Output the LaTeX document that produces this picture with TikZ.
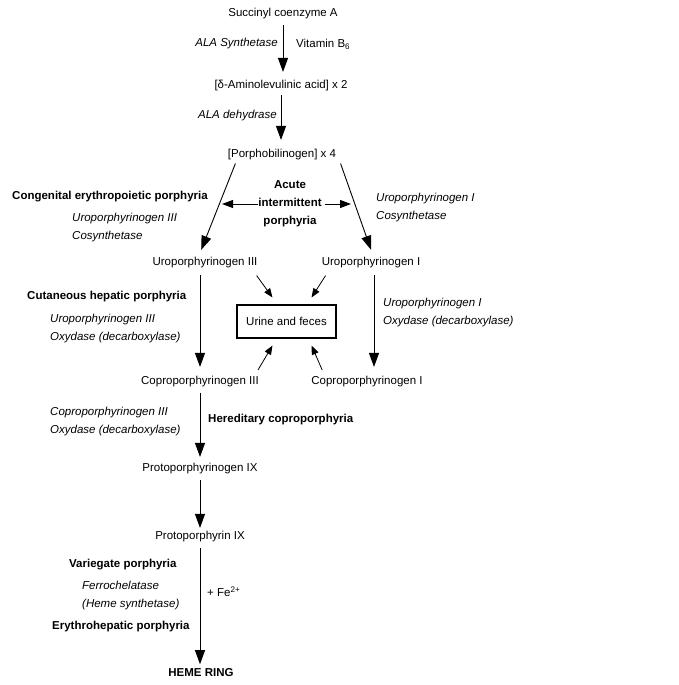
\documentclass[tikz,border=0pt]{standalone}
\usepackage{fontspec}
\setmainfont{Liberation Sans}
\usetikzlibrary{arrows.meta}

\begin{document}
\begin{tikzpicture}[
    x=1pt, y=-1pt,
    font=\fontsize{11.5}{18}\selectfont,
    chem/.style={inner sep=2pt},
    enz/.style={anchor=west, align=left, inner sep=0pt, font=\fontsize{11.5}{18}\selectfont\itshape},
    dis/.style={anchor=west, align=left, inner sep=0pt, font=\fontsize{11.5}{18}\selectfont\bfseries},
    box/.style={draw, line width=1.1pt, minimum width=99pt, minimum height=33pt},
    line/.style={-{Triangle[length=14pt,width=10pt]}, line width=0.9pt, shorten >=3pt, shorten <=3.5pt},
    thin/.style={-{Triangle[length=9pt,width=7pt]}, line width=0.8pt},
    dbl/.style={-{Triangle[length=11pt,width=8pt]}, line width=0.9pt}
]
    \useasboundingbox (0,0) rectangle (679,685);

    \node[chem] (succ) at (283,14) {Succinyl coenzyme A};
    \node[chem] (ala) at (281,86) {[δ-Aminolevulinic acid] x 2};
    \node[chem] (porpho) at (282,155) {[Porphobilinogen] x 4};
    \node[chem] (uro3) at (205,263) {Uroporphyrinogen III};
    \node[chem] (uro1) at (371,263) {Uroporphyrinogen I};
    \node[box] (excr) at (286.5,321.5) {Urine and feces};
    \node[chem] (copro3) at (200,382) {Coproporphyrinogen III};
    \node[chem] (copro1) at (367,382) {Coproporphyrinogen I};
    \node[chem] (protogen) at (200,469) {Protoporphyrinogen IX};
    \node[chem] (proto) at (200,537) {Protoporphyrin IX};
    \node[chem, font=\fontsize{11.5}{18}\selectfont\bfseries] (heme) at (201,673) {HEME RING};

    \node[enz, anchor=east] (alas) at (278,44) {ALA Synthetase};
    \node[anchor=west, inner sep=0pt] (vitb) at (296,44) {Vitamin B\textsubscript{6}};
    \node[enz, anchor=east] (alad) at (277,116) {ALA dehydrase};
    \node[dis] (cep) at (12,197) {Congenital erythropoietic porphyria};
    \node[enz] (uro3cos) at (72,227.5) {Uroporphyrinogen III\\Cosynthetase};
    \node[enz] (uro1cos) at (376,207.5) {Uroporphyrinogen I\\Cosynthetase};
    \node[dis, anchor=center, align=center] (aip) at (290,204) {Acute\\intermittent\\porphyria};
    \node[dis] (chp) at (27,297) {Cutaneous hepatic porphyria};
    \node[enz] (uro3ox) at (50,328.5) {Uroporphyrinogen III\\Oxydase (decarboxylase)};
    \node[enz] (uro1ox) at (383,312.5) {Uroporphyrinogen I\\Oxydase (decarboxylase)};
    \node[enz] (copro3ox) at (50,421.5) {Coproporphyrinogen III\\Oxydase (decarboxylase)};
    \node[dis] (hcp) at (208,420) {Hereditary coproporphyria};
    \node[dis] (vp) at (69,565) {Variegate porphyria};
    \node[enz] (ferro) at (82,596) {Ferrochelatase\\(Heme synthetase)};
    \node[dis] (ehp) at (52,627) {Erythrohepatic porphyria};
    \node[anchor=west, inner sep=0pt] (fe) at (207,592) {+ Fe\textsuperscript{2+}};

    \coordinate (cepTip) at (222,204);
    \coordinate (cosTip) at (351,204);

    \draw[line, shorten >=6.5pt] (succ.south) -- (succ.south |- ala.north);
    \draw[line, shorten >=7.5pt, shorten <=1.5pt] (ala.south) -- (ala.south |- porpho.north);
    \draw[line, shorten >=6pt, shorten <=1pt] ([xshift=10pt]porpho.south west) -- ([xshift=-6pt]uro3.north);
    \draw[line, shorten >=6pt, shorten <=1pt] ([xshift=2pt]porpho.south east) -- ([xshift=2pt]uro1.north);
    \draw[dbl] (aip.west) -- (cepTip);
    \draw[dbl] ([xshift=3pt]aip.east) -- (cosTip);
    \draw[line, shorten >=7.5pt, shorten <=4.5pt] (uro3.south -| copro3) -- (copro3);
    \draw[line, shorten >=7.5pt, shorten <=4.5pt] ([xshift=3pt]uro1.south) -- ([xshift=7pt]copro1.north);
    \draw[thin] ([shift={(-3pt,-5pt)}]uro3.south east) -- ([shift={(36pt,7pt)}]excr.north west);
    \draw[thin] ([shift={(6pt,-5pt)}]uro1.south west) -- ([shift={(-25pt,7pt)}]excr.north east);
    \draw[thin] ([shift={(-3pt,4.5pt)}]copro3.north east) -- ([shift={(36pt,-7pt)}]excr.south west);
    \draw[thin] ([shift={(13pt,4.5pt)}]copro1.north west) -- ([shift={(-25pt,-7pt)}]excr.south east);
    \draw[line, shorten >=4.5pt] (copro3) -- (protogen);
    \draw[line, shorten >=1.5pt] (protogen) -- (proto);
    \draw[line, shorten >=2.5pt] (proto.south) -- (proto.south |- heme.north);
\end{tikzpicture}
\end{document}
